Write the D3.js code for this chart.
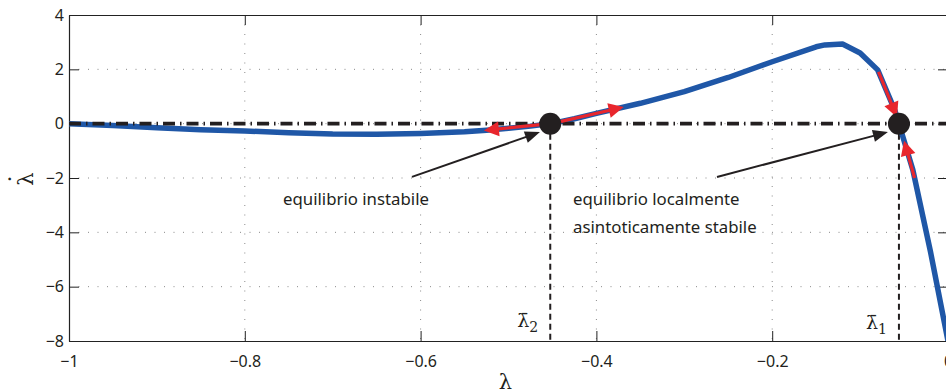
<!DOCTYPE html>
<html>
<head>
<meta charset="utf-8">
<script src="https://cdn.jsdelivr.net/npm/d3@7"></script>
<style>
  body { margin: 0; background: #fff; }
  svg { display: block; }
</style>
</head>
<body>
<svg id="chart" width="946" height="392"></svg>
<script>
// ---- data ----
const lambda = [-1, -0.95, -0.9, -0.85, -0.8, -0.75, -0.7, -0.65, -0.6, -0.55, -0.525, -0.5, -0.475, -0.45, -0.425, -0.4, -0.35, -0.3, -0.25, -0.2, -0.15, -0.14, -0.12, -0.1, -0.08, -0.06, -0.04, -0.02, 0];
const lambdaDot = [0.0, -0.07, -0.15, -0.22, -0.27, -0.33, -0.38, -0.39, -0.36, -0.3, -0.24, -0.17, -0.09, 0.01, 0.18, 0.38, 0.75, 1.18, 1.7, 2.28, 2.83, 2.9, 2.93, 2.6, 1.98, 0.45, -1.7, -4.7, -8];
const xTicks = [-1, -0.8, -0.6, -0.4, -0.2, 0];
const yTicks = [4, 2, 0, -2, -4, -6, -8];
// flow arrows along the curve: [from lambda, to lambda]
const flowArrows = [[-0.455, -0.528], [-0.45, -0.369], [-0.079, -0.058], [-0.038, -0.050]];
// annotation arrows: [x0, y0, x1, y1] in data units
const noteArrows = [[-0.6098, -1.96, -0.4642, -0.31], [-0.2628, -1.96, -0.0683, -0.31]];
const noteTexts = [
  {x: -0.7565, y: -2.99, t: "equilibrio instabile"},
  {x: -0.4266, y: -2.99, t: "equilibrio localmente"},
  {x: -0.4266, y: -4.02, t: "asintoticamente stabile"}
];
const eqLabels = ["2", "1"]; // subscripts for left and right equilibria

// ---- layout ----
const svg = d3.select("#chart");
const L = 69, T = 15, R = 948, B = 341;
const x = d3.scaleLinear().domain([-1, 0]).range([L, R]);
const y = d3.scaleLinear().domain([-8, 4]).range([B, T]);
const BLUE = "#1f57a7", RED = "#e8262d", DARK = "#231f20";

const pts = lambda.map((l, i) => [l, lambdaDot[i]]);
function interp(l) {
  for (let i = 0; i < lambda.length - 1; i++) {
    if (l >= lambda[i] && l <= lambda[i + 1]) {
      const t = (l - lambda[i]) / (lambda[i + 1] - lambda[i]);
      return lambdaDot[i] + t * (lambdaDot[i + 1] - lambdaDot[i]);
    }
  }
  return 0;
}
// interior zero crossings (sign changes)
const roots = [];
for (let i = 1; i < lambda.length - 1; i++) {
  const a = lambdaDot[i], b = lambdaDot[i + 1];
  if ((a < 0 && b >= 0) || (a > 0 && b <= 0)) {
    roots.push(lambda[i] + (0 - a) / (b - a) * (lambda[i + 1] - lambda[i]));
  }
}

// defs
const defs = svg.append("defs");
defs.append("clipPath").attr("id", "clip").append("rect")
  .attr("x", L).attr("y", T).attr("width", R - L).attr("height", B - T);

// grid
const grid = svg.append("g").attr("stroke", "#8a8a8a").attr("stroke-width", 1)
  .attr("stroke-dasharray", "1,8.5");
grid.selectAll(".gx").data(xTicks.slice(1, -1)).join("line")
  .attr("x1", d => x(d)).attr("x2", d => x(d)).attr("y1", T).attr("y2", B);
grid.selectAll(".gy").data(yTicks.slice(1, -1)).join("line")
  .attr("x1", L).attr("x2", R).attr("y1", d => y(d)).attr("y2", d => y(d));

// axes
const fmt = d3.format("");
const axB = svg.append("g").attr("transform", `translate(0,${B})`)
  .call(d3.axisBottom(x).tickValues(xTicks).tickSizeInner(-10).tickSizeOuter(0).tickPadding(14.5).tickFormat(fmt));
const axL = svg.append("g").attr("transform", `translate(${L},0)`)
  .call(d3.axisLeft(y).tickValues(yTicks).tickSizeInner(-10).tickSizeOuter(0).tickPadding(5).tickFormat(fmt));
const axT = svg.append("g").attr("transform", `translate(0,${T})`)
  .call(d3.axisTop(x).tickValues(xTicks).tickSizeInner(-10).tickSizeOuter(0).tickFormat(""));
const axR = svg.append("g").attr("transform", `translate(${R},0)`)
  .call(d3.axisRight(y).tickValues(yTicks).tickSizeInner(-10).tickSizeOuter(0).tickFormat(""));
[axB, axL, axT, axR].forEach(a => {
  a.select(".domain").attr("stroke", "#222").attr("stroke-width", 1.2);
  a.selectAll(".tick line").attr("stroke", "#222").attr("stroke-width", 1);
  a.selectAll("text").attr("font-family", "'Noto Sans', sans-serif").attr("font-size", 16).attr("fill", "#231f20");
});

// vertical dashed lines at equilibria
svg.append("g").selectAll("line").data(roots).join("line")
  .attr("x1", d => x(d)).attr("x2", d => x(d)).attr("y1", y(0)).attr("y2", B)
  .attr("stroke", DARK).attr("stroke-width", 2).attr("stroke-dasharray", "6,4");

// curve
const line = d3.line().x(d => x(d[0])).y(d => y(d[1])).curve(d3.curveLinear);
svg.append("path").datum(pts).attr("clip-path", "url(#clip)")
  .attr("d", line).attr("fill", "none").attr("stroke", BLUE).attr("stroke-width", 5.5)
  .attr("stroke-linejoin", "round");

// zero dash-dot line
svg.append("line").attr("x1", L).attr("x2", R).attr("y1", y(0)).attr("y2", y(0))
  .attr("stroke", DARK).attr("stroke-width", 3.6).attr("stroke-dasharray", "12,5,1.5,5");

// arrow helper
function arrow(g, x0, y0, x1, y1, color, w, hl, hw) {
  const dx = x1 - x0, dy = y1 - y0, len = Math.hypot(dx, dy);
  const ux = dx / len, uy = dy / len;
  const bx = x1 - ux * hl, by = y1 - uy * hl;
  g.append("line").attr("x1", x0).attr("y1", y0).attr("x2", bx + ux * 2).attr("y2", by + uy * 2)
    .attr("stroke", color).attr("stroke-width", w);
  g.append("path").attr("d", `M${x1},${y1}L${bx - uy * hw},${by + ux * hw}L${bx + uy * hw},${by - ux * hw}Z`)
    .attr("fill", color);
}

// red flow arrows along the curve
const ga = svg.append("g");
flowArrows.forEach(([a, b]) => {
  arrow(ga, x(a), y(interp(a)), x(b), y(interp(b)), RED, 3.2, 15, 7.5);
});

// equilibrium dots
svg.append("g").selectAll("circle").data(roots).join("circle")
  .attr("cx", d => x(d)).attr("cy", y(0)).attr("r", 11).attr("fill", DARK);

// annotation arrows
const gn = svg.append("g");
noteArrows.forEach(([a, b, c, d]) => arrow(gn, x(a), y(b), x(c), y(d), DARK, 2, 15, 6));

// annotation texts
svg.append("g").selectAll("text").data(noteTexts).join("text")
  .attr("x", d => x(d.x)).attr("y", d => y(d.y)).text(d => d.t)
  .attr("font-family", "'Noto Sans', sans-serif").attr("font-size", 16.8).attr("fill", DARK);

// equilibrium labels  (λ̄ with subscript)
const lab = svg.append("g").selectAll("text").data(roots).join("text")
  .attr("x", d => x(d) - 33).attr("y", (d, i) => B - 14 + (i === 1 ? 2 : 0))
  .attr("font-family", "'DejaVu Serif', serif").attr("font-size", 19).attr("fill", DARK);
lab.append("tspan").text("λ\u0304");
lab.append("tspan").attr("dy", 5).attr("font-size", 14).text((d, i) => eqLabels[i]);

// axis labels
svg.append("text").attr("x", (L + R) / 2 - 3).attr("y", 389).attr("text-anchor", "middle")
  .attr("font-family", "'DejaVu Serif', serif").attr("font-size", 21).attr("fill", DARK).text("λ");
const yl = svg.append("g").attr("transform", `translate(33,${(T + B) / 2 + 1}) rotate(-90)`);
yl.append("text").attr("text-anchor", "middle")
  .attr("font-family", "'DejaVu Serif', serif").attr("font-size", 21).attr("fill", DARK).text("λ");
yl.append("text").attr("text-anchor", "middle").attr("y", -16)
  .attr("font-family", "'DejaVu Serif', serif").attr("font-size", 21).attr("fill", DARK).text("·");
</script>
</body>
</html>
